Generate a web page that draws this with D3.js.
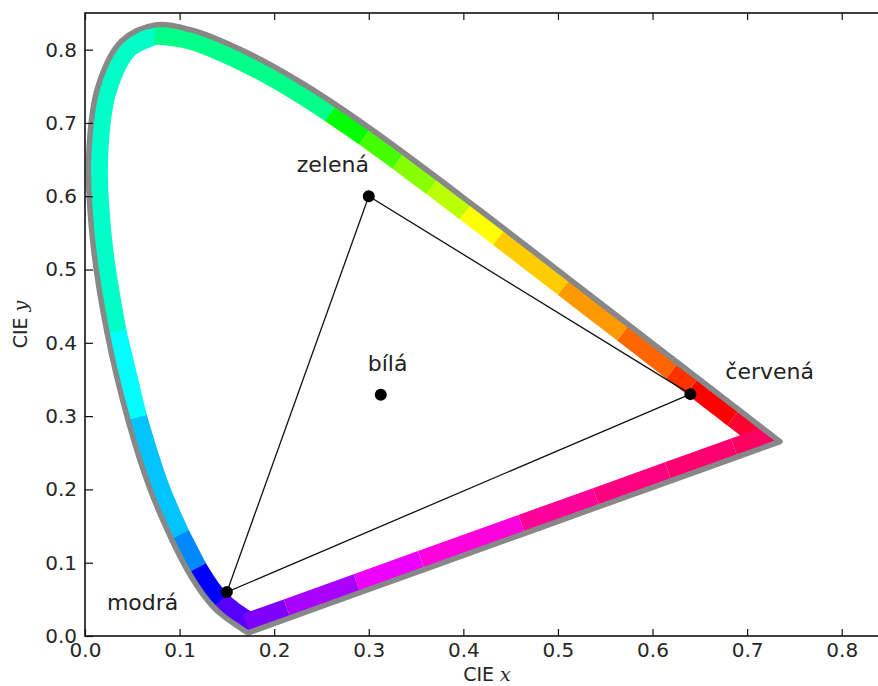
<!DOCTYPE html>
<html>
<head>
<meta charset="utf-8">
<script src="https://cdn.jsdelivr.net/npm/d3@7"></script>
<style>
  body { margin: 0; background: #fff; }
  svg { display: block; }
  text { font-family: "DejaVu Sans", sans-serif; }
</style>
</head>
<body>
<svg id="chart" width="878" height="686"></svg>
<script>
// spectral locus (CIE 1931, 5 nm steps from 380 to 700 nm)
const wavelengths = d3.range(380, 701, 5);
const locusX = [0.1741,0.1740,0.1738,0.1736,0.1733,0.1730,0.1726,0.1721,0.1714,0.1703,
  0.1689,0.1669,0.1644,0.1611,0.1566,0.1510,0.1440,0.1355,0.1241,0.1096,
  0.0913,0.0687,0.0454,0.0235,0.0082,0.0039,0.0139,0.0389,0.0743,0.1142,
  0.1547,0.1929,0.2296,0.2658,0.3016,0.3373,0.3731,0.4087,0.4441,0.4788,
  0.5125,0.5448,0.5752,0.6029,0.6270,0.6482,0.6658,0.6801,0.6915,0.7006,
  0.7079,0.7140,0.7190,0.7230,0.7260,0.7283,0.7300,0.7311,0.7320,0.7327,
  0.7334,0.7340,0.7344,0.7346,0.7347];
const locusY = [0.0050,0.0050,0.0049,0.0049,0.0048,0.0048,0.0048,0.0048,0.0051,0.0058,
  0.0069,0.0086,0.0109,0.0138,0.0177,0.0227,0.0297,0.0399,0.0578,0.0868,
  0.1327,0.2007,0.2950,0.4127,0.5384,0.6548,0.7502,0.8120,0.8338,0.8262,
  0.8059,0.7816,0.7543,0.7243,0.6923,0.6589,0.6245,0.5896,0.5547,0.5202,
  0.4866,0.4544,0.4242,0.3965,0.3725,0.3514,0.3340,0.3197,0.3083,0.2993,
  0.2920,0.2859,0.2809,0.2770,0.2740,0.2717,0.2700,0.2689,0.2680,0.2673,
  0.2666,0.2660,0.2656,0.2654,0.2653];

// colour of each locus piece, keyed by the wavelength where it starts
const colorStarts = [380, 465, 475, 480, 490, 495, 520, 545, 550, 555, 560, 565, 570, 580, 590, 600, 605, 620];
const colorValues = ["#5500ff","#0000ff","#0088ff","#00c4ff","#00ffff","#00ffc8","#00ff88","#00ff00",
  "#44ff00","#88ff00","#bbff00","#ffff00","#ffcc00","#ff9900","#ff6600","#ff3300","#ff0000","#ff0033"];

// line of purples, walked from 700 nm back to 380 nm
const purpleX = [0.690, 0.620, 0.544, 0.465, 0.359, 0.291, 0.217];
const purpleY = [0.2445, 0.2120, 0.1767, 0.1401, 0.0908, 0.0593, 0.0249];
const purpleColors = ["#ff0060","#ff0070","#ff0080","#ff0099","#ff00dd","#ee00ff","#aa00ff","#8000ff"];

// sRGB primaries and white point
const primaryNames = ["červená", "zelená", "modrá"];
const primaryX = [0.64, 0.30, 0.15];
const primaryY = [0.33, 0.60, 0.06];
const whiteName = "bílá";
const whiteX = 0.3127;
const whiteY = 0.3290;

const tickValues = [0, 0.1, 0.2, 0.3, 0.4, 0.5, 0.6, 0.7, 0.8];

// label placement, pixels from the dot
const labelOffsets = {"červená": [35, -15], "zelená": [-72, -24], "modrá": [-120, 18], "bílá": [-13, -24]};

const svg = d3.select("#chart");
const x = d3.scaleLinear().domain([0, 0.85]).range([85, 889]);
const y = d3.scaleLinear().domain([0, 0.85]).range([636, 13]);

// closed ring: locus then purple line back to start
const ringX = locusX.concat(purpleX, [locusX[0]]);
const ringY = locusY.concat(purpleY, [locusY[0]]);
const locusColors = wavelengths.slice(0, -1).map(function(w) {
  let c = colorValues[0];
  colorStarts.forEach(function(s, k) { if (w >= s) c = colorValues[k]; });
  return c;
});
const ringColors = locusColors.concat(purpleColors);

// group consecutive pieces of the same colour
const runs = [];
ringColors.forEach(function(c, i) {
  const last = runs[runs.length - 1];
  if (last && last.color === c) last.idx.push(i + 1);
  else runs.push({color: c, idx: [i, i + 1]});
});

const line = d3.line()
  .curve(d3.curveCatmullRom.alpha(0.5))
  .x(function(i) { return x(ringX[i]); })
  .y(function(i) { return y(ringY[i]); });

// smooth locus, straight purple line
let ringPath = line(d3.range(locusX.length));
purpleX.forEach(function(v, k) { ringPath += "L" + x(v) + "," + y(purpleY[k]); });
ringPath += "Z";

svg.append("clipPath").attr("id", "inside")
  .append("path").attr("d", ringPath);

// coloured band, only its inner half shows
svg.append("g")
  .attr("clip-path", "url(#inside)")
  .selectAll("path")
  .data(runs)
  .enter()
  .append("path")
    .attr("d", function(r) { return line(r.idx); })
    .attr("fill", "none")
    .attr("stroke", function(r) { return r.color; })
    .attr("stroke-width", 39)
    .attr("stroke-linejoin", "round");

// grey outline
svg.append("path")
  .attr("d", ringPath)
  .attr("fill", "none")
  .attr("stroke", "#888")
  .attr("stroke-width", 5.5)
  .attr("stroke-linejoin", "round");

// gamut triangle
svg.append("path")
  .attr("d", d3.line()(primaryX.map(function(v, i) { return [x(v), y(primaryY[i])]; })) + "Z")
  .attr("fill", "none")
  .attr("stroke", "#111")
  .attr("stroke-width", 1.3);

const dots = primaryNames.map(function(n, i) { return {name: n, x: primaryX[i], y: primaryY[i]}; });
dots.push({name: whiteName, x: whiteX, y: whiteY});

svg.append("g").selectAll("circle")
  .data(dots)
  .enter()
  .append("circle")
    .attr("cx", function(d) { return x(d.x); })
    .attr("cy", function(d) { return y(d.y); })
    .attr("r", 6)
    .attr("fill", "#000");

svg.append("g").selectAll("text")
  .data(dots)
  .enter()
  .append("text")
    .attr("x", function(d) { return x(d.x) + labelOffsets[d.name][0]; })
    .attr("y", function(d) { return y(d.y) + labelOffsets[d.name][1]; })
    .attr("font-size", 22)
    .attr("fill", "#222")
    .text(function(d) { return d.name; });

// axes, ticks pointing inward
const fmt = d3.format(".1f");
function styleAxis(g) {
  g.select(".domain").remove();
  g.selectAll("line").attr("stroke", "#111").attr("stroke-width", 1.2);
  g.selectAll("text").attr("font-size", 20).attr("fill", "#262626").attr("font-family", "DejaVu Sans");
}
svg.append("g").attr("transform", "translate(0,636)")
  .call(d3.axisBottom(x).tickValues(tickValues).tickFormat(fmt).tickSizeInner(-7).tickSizeOuter(0).tickPadding(7))
  .call(styleAxis);
svg.append("g").attr("transform", "translate(0,13)")
  .call(d3.axisTop(x).tickValues(tickValues).tickFormat("").tickSizeInner(-7).tickSizeOuter(0))
  .call(styleAxis);
svg.append("g").attr("transform", "translate(85,0)")
  .call(d3.axisLeft(y).tickValues(tickValues).tickFormat(fmt).tickSizeInner(-8).tickSizeOuter(0).tickPadding(8))
  .call(styleAxis);

svg.append("rect")
  .attr("x", x(0)).attr("y", y(0.85))
  .attr("width", x(0.85) - x(0)).attr("height", y(0) - y(0.85))
  .attr("fill", "none")
  .attr("stroke", "#111")
  .attr("stroke-width", 1.6);

// axis titles
const xt = svg.append("text")
  .attr("x", (x(0) + x(0.85)) / 2).attr("y", 681)
  .attr("text-anchor", "middle").attr("font-size", 19).attr("fill", "#262626");
xt.append("tspan").text("CIE ");
xt.append("tspan").attr("font-family", "DejaVu Serif").attr("font-style", "italic").text("x");

const yt = svg.append("text")
  .attr("transform", "translate(27," + (y(0) + y(0.85)) / 2 + ") rotate(-90)")
  .attr("text-anchor", "middle").attr("font-size", 19).attr("fill", "#262626");
yt.append("tspan").text("CIE ");
yt.append("tspan").attr("font-family", "DejaVu Serif").attr("font-style", "italic").text("y");
</script>
</body>
</html>
